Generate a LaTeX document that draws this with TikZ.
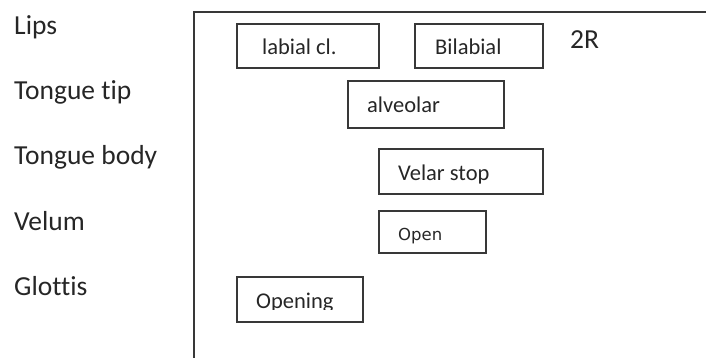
\documentclass[tikz,border=0pt]{standalone}
\usepackage{fontspec}
\setmainfont[Ligatures=NoCommon]{Carlito}
\newfontfamily\smallsans{DejaVu Sans}
\usepackage{tikz}

\begin{document}
\begin{tikzpicture}[x=1pt,y=-1pt,
  every node/.style={text=black!85},
  tier/.style={anchor=base west,inner sep=0pt,font=\fontsize{27.5}{32}\selectfont},
  gesture/.style={draw=black!78,line width=1.6pt,inner sep=0pt,anchor=north west},
  gtext/.style={anchor=base west,inner sep=0pt,font=\fontsize{22.5}{27}\selectfont}]
\useasboundingbox (0,0) rectangle (706,358);

% tiers
\node[tier] (lips) at (14,35) {Lips};
\node[tier] (tip) at (14,100) {Tongue tip};
\node[tier] (body) at (14,165) {Tongue body};
\node[tier] (velum) at (14,230) {Velum};
\node[tier] (glottis) at (14,295) {Glottis};

% frame
\draw[black!78,line width=1.6pt] (706,12) -- (194,12) -- (194,358);

% gestures
\node[gesture,minimum width=142,minimum height=44] (labial) at (236,23) {};
\node[gesture,minimum width=128,minimum height=44] (bilabial) at (414,23) {};
\node[gesture,minimum width=156,minimum height=47] (alveolar) at (347,80) {};
\node[gesture,minimum width=164,minimum height=45] (velar) at (378,148) {};
\node[gesture,minimum width=107,minimum height=42] (open) at (378,210) {};
\node[gesture,minimum width=126,minimum height=45] (opening) at (236,276) {};

\node[gtext] (labialtxt) at (262,55) {labial cl.};
\node[gtext] (bilabialtxt) at (435,55) {Bilabial};
\node[tier] (tworound) at (570,49) {2R};
\node[gtext] (alveolartxt) at (367,113) {alveolar};
\node[gtext] (velartxt) at (398,181) {Velar stop};
\node[anchor=base west,inner sep=0pt,font=\smallsans\fontsize{16.5}{20}\selectfont] (opentxt) at (398,240) {Open};
\begin{scope}
\clip (240,280) rectangle (358,309);
\node[gtext] (openingtxt) at (256,308) {Opening};
\end{scope}
\end{tikzpicture}
\end{document}
